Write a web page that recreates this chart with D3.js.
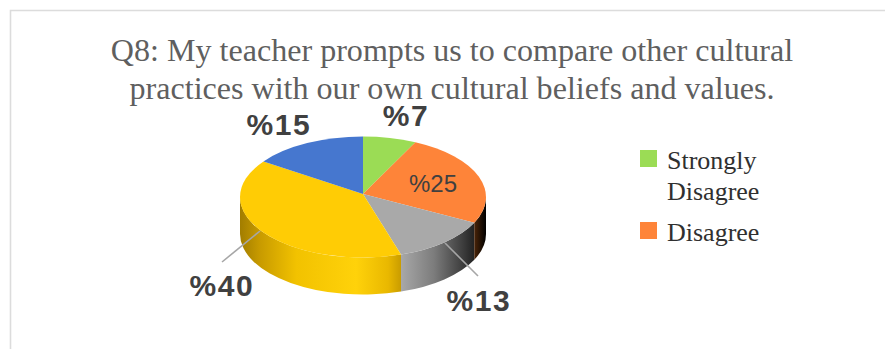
<!DOCTYPE html>
<html>
<head>
<meta charset="utf-8">
<script src="https://cdn.jsdelivr.net/npm/d3@7/dist/d3.min.js"></script>
<style>
  html, body { margin: 0; padding: 0; background: #fff; }
  svg { display: block; }
</style>
</head>
<body>
<svg id="chart" width="885" height="349"></svg>
<script>
// Survey responses for Q8, in clockwise order from twelve o'clock
const categories = ["Strongly Disagree", "Disagree", "Neutral", "Agree", "Strongly Agree"];
const shares = [7, 25, 13, 40, 15];
const sliceColors = ["#9bdc55", "#fe8439", "#a9a9a9", "#ffcc05", "#4677cf"];
const titleLines = [
  "Q8: My teacher prompts us to compare other cultural",
  "practices with our own cultural beliefs and values."
];
const legendLines = [["Strongly", "Disagree"], ["Disagree"]];

const svg = d3.select("#chart");
const defs = svg.append("defs");

// Chart frame: only the top and left rules are visible
svg.append("path").attr("d", "M10.5 349V10.5H885")
  .attr("fill", "none").attr("stroke", "#dcdcdc").attr("stroke-width", 1.6);

svg.selectAll("text.title").data(titleLines).join("text")
  .attr("class", "title")
  .attr("x", 452)
  .attr("y", (d, i) => 61 + i * 38)
  .attr("text-anchor", "middle")
  .attr("font-family", "'Liberation Serif', serif")
  .attr("font-size", 32.1)
  .attr("fill", "#5f5f5f")
  .text(d => d);

// Tilted pie geometry
const cx = 363, cy = 197, rx = 123, ry = 60.5, depth = 37, apexLift = 3;
const px = a => cx + rx * Math.sin(a);
const py = a => cy - ry * Math.cos(a);

const arcs = d3.pie().sort(null).value(d => d)(shares);

function wallPath(a0, a1) {
  return `M${px(a0)} ${py(a0)}A${rx} ${ry} 0 0 1 ${px(a1)} ${py(a1)}` +
         `V${py(a1) + depth}A${rx} ${ry} 0 0 0 ${px(a0)} ${py(a0) + depth}Z`;
}
function topPath(a0, a1) {
  const large = a1 - a0 > Math.PI ? 1 : 0;
  return `M${cx} ${cy - apexLift}L${px(a0)} ${py(a0)}` +
         `A${rx} ${ry} 0 ${large} 1 ${px(a1)} ${py(a1)}Z`;
}
function wallGradient(id, a0, a1, stops) {
  const g = defs.append("linearGradient").attr("id", id)
    .attr("gradientUnits", "userSpaceOnUse")
    .attr("x1", px(a0)).attr("x2", px(a1)).attr("y1", 0).attr("y2", 0);
  stops.forEach(([o, c]) => g.append("stop").attr("offset", o).attr("stop-color", c));
}

// Side walls of the front-facing half of the disc
const wallStyles = {
  1: [["0", "#4a2408"], ["1", "#000000"]],
  2: [["0", "#a8a8a8"], ["0.45", "#7c7c7c"], ["0.85", "#3c3c3c"], ["1", "#222222"]],
  3: [["0", "#a27d00"], ["0.12", "#c79a00"], ["0.35", "#f2c200"], ["0.72", "#ffd20a"], ["0.92", "#e9b800"], ["1", "#c99c00"]]
};
[3, 2, 1].forEach(i => {
  const a0 = Math.max(arcs[i].startAngle, Math.PI / 2);
  const a1 = Math.min(arcs[i].endAngle, Math.PI * 1.5);
  const id = "wall" + i;
  // Gradients run left to right on screen, so the larger angle is the start
  wallGradient(id, a1, a0, wallStyles[i]);
  svg.append("path").attr("d", wallPath(a0, a1)).attr("fill", `url(#${id})`);
});

svg.selectAll("path.slice").data(arcs).join("path")
  .attr("class", "slice")
  .attr("d", d => topPath(d.startAngle, d.endAngle))
  .attr("fill", (d, i) => sliceColors[i]);

// Leader lines for the two outside labels that need them
const leaders = [[[260, 231], [222, 262]], [[445, 243], [478, 276]]];
svg.selectAll("path.leader").data(leaders).join("path")
  .attr("class", "leader")
  .attr("d", d3.line())
  .attr("fill", "none").attr("stroke", "#a6a6a6").attr("stroke-width", 1.6);

// Value labels, placed around each slice
const labelSpots = [[406, 126], [433, 192], [479, 311], [222, 296], [279, 135]];
svg.selectAll("text.value").data(arcs).join("text")
  .attr("class", "value")
  .attr("x", (d, i) => labelSpots[i][0])
  .attr("y", (d, i) => labelSpots[i][1])
  .attr("text-anchor", "middle")
  .attr("font-family", "'Liberation Sans', sans-serif")
  .attr("font-weight", (d, i) => i === 1 ? 400 : 700)
  .attr("font-size", (d, i) => i === 1 ? 24 : 30)
  .attr("letter-spacing", (d, i) => i === 1 ? 0 : 1.6)
  .attr("fill", "#404040")
  .text(d => "%" + d.data);

// Legend shows the first two categories; the rest fell outside the chart area
const legendTops = [150, 222];
const legend = svg.selectAll("g.legend").data(legendLines).join("g")
  .attr("class", "legend")
  .attr("transform", (d, i) => `translate(640,${legendTops[i]})`);
legend.append("rect").attr("width", 17).attr("height", 17)
  .attr("fill", (d, i) => sliceColors[i]);
legend.selectAll("text").data(d => d).join("text")
  .attr("x", 27)
  .attr("y", (d, i) => 19 + i * 31)
  .attr("font-family", "'Liberation Serif', serif")
  .attr("font-size", 26)
  .attr("fill", "#303030")
  .text(d => d);
</script>
</body>
</html>
